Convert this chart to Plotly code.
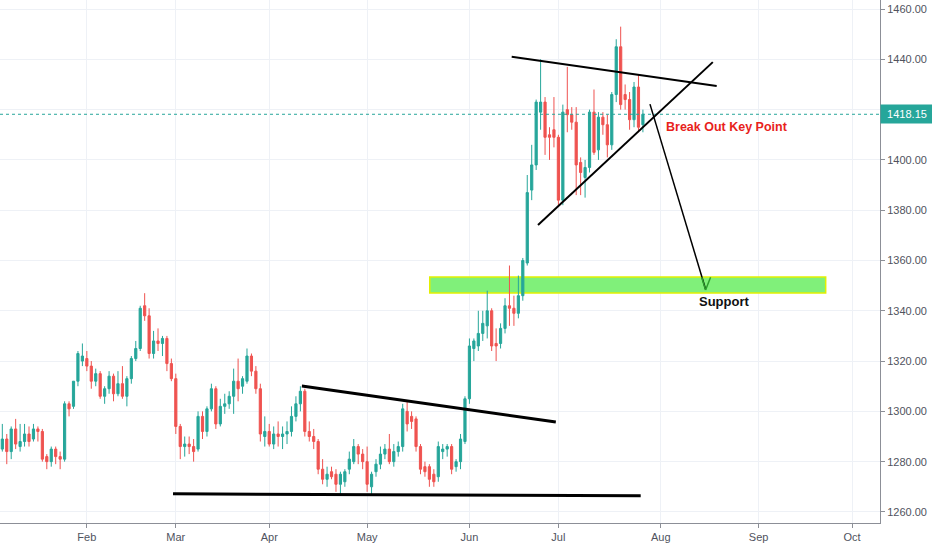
import pandas as pd
import plotly.graph_objects as go

# daily candles, weekdays from 7 Jan to 26 Jul 2019 (one line per month)
open_ = (
    [1285, 1289, 1284, 1293, 1286, 1288, 1291, 1289, 1293, 1292, 1282, 1280, 1285, 1282, 1281, 1303, 1302, 1312, 1320]
    + [1321, 1318, 1312, 1315, 1306, 1309, 1314, 1307, 1311, 1306, 1313, 1321, 1325, 1342, 1338, 1323, 1328, 1327, 1329, 1319]
    + [1313, 1294, 1286, 1287, 1286, 1285, 1298, 1292, 1301, 1309, 1295, 1302, 1303, 1306, 1312, 1310, 1312, 1322, 1316, 1309, 1290]
    + [1292, 1287, 1291, 1290, 1291, 1292, 1298, 1303, 1308, 1292, 1290, 1288, 1277, 1273, 1276, 1275, 1271, 1272, 1277, 1280, 1286, 1283]
    + [1280, 1270, 1276, 1279, 1283, 1285, 1280, 1284, 1286, 1300, 1298, 1297, 1286, 1278, 1278, 1275, 1274, 1284, 1285, 1286, 1278, 1280, 1288]
    + [1305, 1325, 1326, 1331, 1334, 1340, 1327, 1327, 1333, 1342, 1341, 1339, 1346, 1359, 1388, 1398, 1419, 1423, 1410, 1412]
    + [1409, 1384, 1420, 1418, 1415, 1399, 1393, 1397, 1419, 1404, 1417, 1414, 1406, 1426, 1445, 1426, 1424, 1416, 1429, 1414]
)
high = (
    [1295, 1291, 1294, 1297, 1295, 1295, 1294, 1295, 1294, 1293, 1283, 1286, 1286, 1284, 1304, 1304, 1312, 1324, 1327]
    + [1324, 1320, 1317, 1316, 1310, 1316, 1315, 1316, 1318, 1314, 1322, 1328, 1342, 1347, 1341, 1332, 1333, 1330, 1330, 1321]
    + [1315, 1295, 1290, 1290, 1289, 1300, 1300, 1302, 1311, 1310, 1305, 1307, 1308, 1317, 1321, 1314, 1325, 1323, 1318, 1311, 1298]
    + [1295, 1294, 1296, 1294, 1296, 1302, 1306, 1310, 1309, 1296, 1293, 1289, 1281, 1278, 1278, 1277, 1276, 1277, 1284, 1289, 1287, 1285]
    + [1286, 1276, 1281, 1286, 1287, 1291, 1287, 1288, 1303, 1304, 1300, 1298, 1287, 1280, 1279, 1277, 1288, 1287, 1287, 1287, 1281, 1291, 1306]
    + [1329, 1329, 1340, 1340, 1348, 1341, 1333, 1335, 1345, 1358, 1346, 1354, 1361, 1394, 1406, 1424, 1440, 1425, 1413, 1425]
    + [1410, 1422, 1437, 1421, 1421, 1401, 1400, 1420, 1428, 1419, 1419, 1418, 1427, 1448, 1453, 1430, 1427, 1431, 1434, 1420]
)
low = (
    [1284, 1279, 1281, 1285, 1284, 1286, 1286, 1288, 1288, 1280, 1277, 1278, 1279, 1277, 1280, 1298, 1301, 1310, 1318]
    + [1316, 1309, 1310, 1305, 1303, 1307, 1304, 1306, 1305, 1302, 1311, 1320, 1324, 1336, 1321, 1321, 1324, 1322, 1316, 1312]
    + [1291, 1281, 1282, 1283, 1280, 1284, 1289, 1290, 1300, 1293, 1294, 1299, 1301, 1299, 1304, 1307, 1311, 1314, 1307, 1288, 1286]
    + [1286, 1285, 1286, 1285, 1287, 1290, 1296, 1300, 1290, 1288, 1285, 1275, 1271, 1270, 1273, 1268, 1267, 1270, 1275, 1279, 1279, 1277]
    + [1268, 1267, 1274, 1277, 1281, 1279, 1278, 1282, 1284, 1292, 1293, 1284, 1275, 1274, 1270, 1270, 1272, 1281, 1282, 1275, 1276, 1277, 1287]
    + [1303, 1320, 1324, 1328, 1329, 1324, 1320, 1325, 1331, 1334, 1334, 1337, 1344, 1358, 1384, 1396, 1412, 1402, 1400, 1405]
    + [1382, 1382, 1411, 1412, 1386, 1386, 1385, 1395, 1402, 1400, 1410, 1401, 1404, 1423, 1420, 1420, 1412, 1413, 1411, 1411]
)
close = (
    [1289, 1284, 1293, 1287, 1288, 1291, 1288, 1293, 1292, 1281, 1280, 1285, 1282, 1281, 1303, 1301, 1312, 1323, 1322]
    + [1318, 1312, 1315, 1306, 1309, 1314, 1307, 1311, 1306, 1313, 1321, 1325, 1341, 1338, 1323, 1328, 1327, 1329, 1319, 1313]
    + [1294, 1286, 1287, 1286, 1284, 1298, 1292, 1301, 1309, 1295, 1302, 1303, 1306, 1312, 1309, 1313, 1322, 1316, 1309, 1291, 1292]
    + [1287, 1291, 1290, 1291, 1292, 1298, 1303, 1308, 1292, 1290, 1288, 1277, 1273, 1275, 1274, 1271, 1275, 1276, 1281, 1286, 1283, 1280]
    + [1271, 1275, 1279, 1283, 1285, 1280, 1284, 1286, 1301, 1295, 1296, 1286, 1277, 1276, 1273, 1272, 1286, 1285, 1286, 1277, 1280, 1289, 1305]
    + [1326, 1328, 1331, 1335, 1340, 1326, 1326, 1333, 1342, 1341, 1339, 1346, 1360, 1387, 1398, 1423, 1423, 1409, 1409, 1409]
    + [1384, 1419, 1418, 1415, 1398, 1395, 1397, 1419, 1403, 1417, 1414, 1406, 1426, 1445, 1422, 1424, 1416, 1429, 1413, 1418.15]
)
last_price = 1418.15

month_ticks = ["2019-02-01", "2019-03-01", "2019-04-01", "2019-05-01", "2019-06-03",
               "2019-07-01", "2019-08-01", "2019-09-02", "2019-10-01"]
month_labels = ["Feb", "Mar", "Apr", "May", "Jun", "Jul", "Aug", "Sep", "Oct"]
price_ticks = [1260, 1280, 1300, 1320, 1340, 1360, 1380, 1400, 1420, 1440, 1460]
# the 1420 label sits under the last-price tag, so it is left blank
price_labels = ["" if v == 1420 else f"{v:.2f}" for v in price_ticks]

# drawings on the chart (start / end points)
base_line_x = ["2019-02-28 09:00", "2019-07-25 12:00"]
base_line_y = [1267.2, 1266.4]
wedge_top_x = ["2019-04-10 08:00", "2019-06-28 10:00"]
wedge_top_y = [1310.1, 1295.8]
tri_upper_x = ["2019-06-14 12:00", "2019-08-19 14:00"]
tri_upper_y = [1441.0, 1429.4]
tri_lower_x = ["2019-06-24 10:00", "2019-08-16 17:00"]
tri_lower_y = [1374.1, 1438.9]
arrow_x = ["2019-07-29 14:00", "2019-08-15 02:00"]
arrow_y = [1422.2, 1348.6]
arrow_head_x = ["2019-08-14 05:00", "2019-08-15 02:00", "2019-08-16 05:00"]
arrow_head_y = [1353.3, 1348.3, 1353.3]
support_x = ["2019-05-21 02:00", "2019-09-23 02:00"]
support_y = [1347.1, 1353.4]

UP = "#26a69a"
DOWN = "#ef5350"

dates = pd.bdate_range("2019-01-07", periods=len(close))

fig = go.Figure()
fig.add_trace(go.Candlestick(
    x=dates, open=open_, high=high, low=low, close=close,
    increasing=dict(line=dict(color=UP, width=1), fillcolor=UP),
    decreasing=dict(line=dict(color=DOWN, width=1), fillcolor=DOWN),
    whiskerwidth=0, showlegend=False, hoverinfo="skip",
))

shapes = []
shapes.append(dict(type="rect", xref="x", yref="y", layer="between",
                   x0=support_x[0], x1=support_x[1], y0=support_y[0], y1=support_y[1],
                   fillcolor="#80f07a", line=dict(color="#e2ef00", width=1.5)))
shapes.append(dict(type="line", xref="paper", yref="y", x0=0, x1=1,
                   y0=last_price, y1=last_price, line=dict(color=UP, width=1, dash="dot")))
for xs, ys, w in [(base_line_x, base_line_y, 3), (wedge_top_x, wedge_top_y, 3),
                  (tri_upper_x, tri_upper_y, 2), (tri_lower_x, tri_lower_y, 2),
                  (arrow_x, arrow_y, 1.5)]:
    shapes.append(dict(type="line", xref="x", yref="y", x0=xs[0], x1=xs[1],
                       y0=ys[0], y1=ys[1], line=dict(color="black", width=w)))
for i in (0, 2):
    shapes.append(dict(type="line", xref="x", yref="y",
                       x0=arrow_head_x[i], y0=arrow_head_y[i],
                       x1=arrow_head_x[1], y1=arrow_head_y[1],
                       line=dict(color="#2ca02c", width=1.5)))

fig.update_layout(
    width=932, height=550,
    margin=dict(l=0, r=52, t=0, b=27),
    plot_bgcolor="white", paper_bgcolor="white",
    font=dict(family="Liberation Sans, Arial, sans-serif", size=11, color="#50535e"),
    shapes=shapes,
    showlegend=False,
)
fig.update_xaxes(
    type="date",
    range=["2019-01-04 11:30", "2019-10-09 07:00"],
    rangebreaks=[dict(bounds=["sat", "mon"])],
    rangeslider_visible=False,
    tickvals=month_ticks, ticktext=month_labels,
    showgrid=True, gridcolor="#eef1f6", gridwidth=1,
    showline=True, linecolor="#8c8f97", linewidth=1,
    ticks="outside", ticklen=4, tickcolor="#8c8f97",
    zeroline=False,
)
fig.update_yaxes(
    side="right",
    range=[1255.6, 1463.6],
    tickvals=price_ticks, ticktext=price_labels,
    showgrid=True, gridcolor="#eef1f6", gridwidth=1,
    showline=True, linecolor="#8c8f97", linewidth=1,
    ticks="outside", ticklen=4, tickcolor="#8c8f97",
    zeroline=False,
)

fig.add_annotation(x=1, xref="paper", y=last_price, yref="y",
                   text=f"{last_price:.2f}", showarrow=False,
                   xanchor="left", yanchor="middle", xshift=0,
                   bgcolor=UP, borderpad=3, width=46,
                   font=dict(color="white", size=11))
fig.add_annotation(x="2019-08-01 17:00", y=1413.1, xref="x", yref="y",
                   text="<b>Break Out Key Point</b>", showarrow=False,
                   xanchor="left", yanchor="middle",
                   font=dict(color="#e8221b", size=12.5,
                             family="Liberation Sans, Arial, sans-serif"))
fig.add_annotation(x="2019-08-13 02:00", y=1343.5, xref="x", yref="y",
                   text="<b>Support</b>", showarrow=False,
                   xanchor="left", yanchor="middle",
                   font=dict(color="#111111", size=13,
                             family="Liberation Sans, Arial, sans-serif"))

# page body has a default margin; drop it so the figure sits at the window corner
fig.write_html("out.html", config={"displayModeBar": False},
               post_script="document.body.style.margin='0';")
